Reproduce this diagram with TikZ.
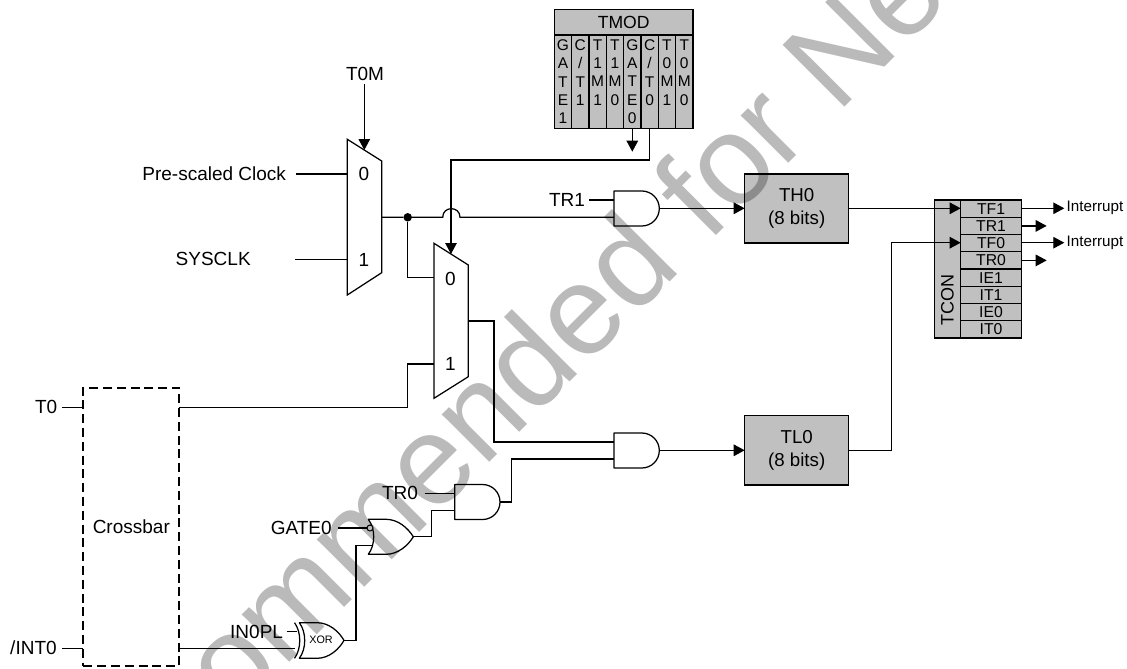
\documentclass[tikz,border=0pt]{standalone}
\usepackage{fontspec}
\setmainfont{Liberation Sans}
\usetikzlibrary{arrows.meta,calc,positioning}
\newcommand{\fs}[2]{\fontsize{#1}{#2}\selectfont}
\newcommand{\andgate}[2]{% left x, top y
  \draw[gate] (#1,#2) -- ++(27.8,0) .. controls ++(9.7,0) and (#1+45.3,#2+7.8) .. (#1+45.3,#2+17.5)
    .. controls (#1+45.3,#2+27.2) and (#1+37.5,#2+35) .. (#1+27.8,#2+35) -- (#1,#2+35) -- cycle;}
\tikzset{
  x=1pt,y=-1pt,
  wire/.style={line width=1.25pt,line join=miter},
  arrowwire/.style={wire,-{Triangle[length=11pt,width=11.5pt]}},
  gate/.style={line width=1.25pt,fill=white,line join=round},
  lbl/.style={inner sep=0pt,outer sep=0pt,font=\fs{19}{22}},
  regbox/.style={draw,line width=1.4pt,fill=cellgray,inner sep=0pt,outer sep=0pt,align=center,font=\fs{18.7}{23.5}},
  modcell/.style={draw,line width=1.4pt,fill=cellgray,inner sep=0pt,outer sep=0pt,minimum width=17.33pt,minimum height=93.3pt,align=center,font=\fs{15.5}{18.4}},
  concell/.style={draw,line width=1.4pt,fill=cellgray,inner sep=0pt,outer sep=0pt,minimum width=60.6pt,minimum height=17.25pt,font=\fs{15.75}{17}},
  muxshape/.style={line width=1.25pt,fill=white,line join=miter},
  dot/.style={circle,fill=black,inner sep=0pt,minimum size=8.5pt,outer sep=0pt},
}
\definecolor{cellgray}{HTML}{C0C0C0}
\definecolor{wmgray}{HTML}{BABABA}
\begin{document}
\begin{tikzpicture}
\useasboundingbox (0,0) rectangle (1127,669);
\fill[white] (0,0) rectangle (1127,669);

% --- muxes
\draw[muxshape] (347.3,139.3) -- (381.7,161) -- (381.7,272.7) -- (347.3,295) -- cycle;
\draw[muxshape] (434,243.3) -- (468.3,265) -- (468.3,376.7) -- (434,398.3) -- cycle;
\node[lbl] (m1a) at (364,174.3) {0};
\node[lbl] (m1b) at (364,260) {1};
\node[lbl] (m2a) at (450.5,278.5) {0};
\node[lbl] (m2b) at (450.5,364) {1};
\coordinate (m1in0) at (347.3,174);
\coordinate (m1in1) at (347.3,259.3);
\coordinate (m1top) at (364.3,150);
\coordinate (m1out) at (381.7,217.3);
\coordinate (m2in0) at (434,277.3);
\coordinate (m2in1) at (434,364);
\coordinate (m2top) at (451,254);
\coordinate (m2out) at (468.3,321);

% --- gates
\andgate{614}{191}
\andgate{614}{433}
\andgate{454.7}{484.5}
\draw[gate] (368.3,519.3) -- (386,519.3) .. controls (398,519.3) and (408,528) .. (413.3,536.8)
  .. controls (408,545.5) and (398,554.3) .. (386,554.3) -- (368.3,554.3)
  .. controls (375.5,545) and (375.5,528.5) .. (368.3,519.3) -- cycle;
\draw[gate] (299.3,622.7) -- (317,622.7) .. controls (329,622.7) and (339,631.5) .. (344,640.4)
  .. controls (339,649.3) and (329,658.3) .. (317,658.3) -- (299.3,658.3)
  .. controls (306.5,649) and (306.5,632) .. (299.3,622.7) -- cycle;
\draw[gate,fill=none] (294.5,622.7) .. controls (301.5,632) and (301.5,649) .. (294.5,658.3);
\draw[line width=1pt,fill=white] (370,528) circle[radius=3];
\node[lbl,font=\fs{10.8}{12}] (xorlbl) at (321,640) {XOR};

\coordinate (a1in1) at (614,200);
\coordinate (a1in2) at (614,217.3);
\coordinate (a1out) at (659.3,208.3);
\coordinate (a2in1) at (614,442);
\coordinate (a2in2) at (614,459);
\coordinate (a2out) at (659.3,450.3);
\coordinate (a3in1) at (454.7,493.3);
\coordinate (a3in2) at (454.7,510.7);
\coordinate (a3out) at (500,502);
\coordinate (orin1) at (367,528);
\coordinate (orin2) at (372.7,545.7);
\coordinate (orout) at (413.3,536.8);
\coordinate (xin1) at (297,631.7);
\coordinate (xin2) at (295,648.5);
\coordinate (xout) at (344,640.4);

% --- crossbar
\node[draw,dash pattern=on 9pt off 4.8pt,line width=1.8pt,inner sep=0pt,outer sep=0pt,minimum width=96pt,minimum height=278.3pt,font=\fs{19}{22}] (xbar) at (131.3,526.8) {Crossbar};
\coordinate (xbT0l) at (83.3,407.3);
\coordinate (xbT0r) at (179.3,407.3);
\coordinate (xbINl) at (83.3,648.5);
\coordinate (xbINr) at (179.3,648.5);

% --- registers
\node[regbox,minimum width=104pt,minimum height=69pt] (th0) at (796.7,208.5) {TH0\\(8 bits)};
\node[regbox,minimum width=104pt,minimum height=69.3pt] (tl0) at (796.7,450.3) {TL0\\(8 bits)};

% --- TMOD
\node[draw,line width=1.4pt,fill=cellgray,inner sep=0pt,outer sep=0pt,minimum width=138.7pt,minimum height=25.7pt,font=\fs{17.6}{20}] (tmod) at (623.65,22.15) {TMOD};
\node[modcell] (tm1) at (562.97,81.65) {G\\A\\T\\E\\1};
\node[modcell] (tm2) at (580.3,81.65) {C\\/\\T\\1\\~};
\node[modcell] (tm3) at (597.63,81.65) {T\\1\\M\\1\\~};
\node[modcell] (tm4) at (614.96,81.65) {T\\1\\M\\0\\~};
\node[modcell] (tm5) at (632.29,81.65) {G\\A\\T\\E\\0};
\node[modcell] (tm6) at (649.62,81.65) {C\\/\\T\\0\\~};
\node[modcell] (tm7) at (666.95,81.65) {T\\0\\M\\1\\~};
\node[modcell] (tm8) at (684.28,81.65) {T\\0\\M\\0\\~};

% --- TCON
\node[draw,line width=1.4pt,fill=cellgray,inner sep=0pt,outer sep=0pt,minimum width=26pt,minimum height=138pt] (tconbox) at (947.7,269) {};
\node[lbl,rotate=90,font=\fs{18}{20}] (tconlbl) at (947.5,299.5) {TCON};
\node[concell] (tf1) at (991,208.6) {TF1};
\node[concell] (tr1) at (991,225.9) {TR1};
\node[concell] (tf0) at (991,243.1) {TF0};
\node[concell] (tr0) at (991,260.4) {TR0};
\node[concell] (ie1) at (991,277.6) {IE1};
\node[concell] (it1) at (991,294.9) {IT1};
\node[concell] (ie0) at (991,312.1) {IE0};
\node[concell] (it0) at (991,329.4) {IT0};

% --- labels
\node[lbl,anchor=east] (pre) at (286,174) {Pre-scaled Clock};
\node[lbl,anchor=east] (sys) at (250.7,258.5) {SYSCLK};
\node[lbl] (t0m) at (365,74) {T0M};
\node[lbl,anchor=east] (tr1l) at (585,199.5) {TR1};
\node[lbl,anchor=east] (t0l) at (57.3,407) {T0};
\node[lbl,anchor=east] (intl) at (56.7,648) {/INT0};
\node[lbl,anchor=east] (tr0l) at (418,493) {TR0};
\node[lbl,anchor=east] (gatel) at (331.7,527.5) {GATE0};
\node[lbl,anchor=east] (inpl) at (283,631.5) {IN0PL};
\node[lbl,anchor=west,font=\fs{15.2}{17}] (int1) at (1066.7,208) {Interrupt};
\node[lbl,anchor=west,font=\fs{15.2}{17}] (int2) at (1066.7,242.5) {Interrupt};

% --- connectors
\draw[wire] ($(pre.east)+(10,0)$) -- (m1in0);
\draw[wire] ($(sys.east)+(44.3,0.8)$) -- (m1in1);
\coordinate (t0mb) at (364.3,84);
\draw[arrowwire] (t0mb) -- (m1top);
\node[dot] (jn) at (407.7,217.3) {};
\coordinate (hopa) at (442.7,217.3);
\coordinate (hopb) at (460,217.3);
\draw[wire] (m1out) -- (jn) -- (hopa) .. controls (442.7,205.8) and (460,205.8) .. (hopb) -- (a1in2);
\draw[wire] (jn) |- (m2in0);
\draw[wire] (xbT0r) -- (407.7,407.3) -- (407.7,364) -- (m2in1);
\draw[wire] (m2out) -- (494,321) -- (494,442) -- (a2in1);
\draw[arrowwire] (tm5.south) -- (632.29,151.7);
\draw[arrowwire] (tm6.south) -- (649.62,160) -- (451,160) -- (m2top);
\draw[wire] ($(tr1l.east)+(4.3,0.5)$) -- (a1in1);
\draw[arrowwire] (a1out) -- (th0.west |- a1out);
\draw[arrowwire] (a2out) -- (tl0.west);
\draw[arrowwire] (th0.east |- a1out) -- (tf1.west |- a1out);
\draw[arrowwire] (tl0.east) -- (891.7,450.3) -- (891.7,242.7) -- (tf0.west |- 0,242.7);
\draw[arrowwire] (tf1.east |- 0,208.3) -- (1064.3,208.3);
\draw[arrowwire] (tr1.east) -- (1046.7,225.9);
\draw[arrowwire] (tf0.east |- 0,242.7) -- (1064.3,242.7);
\draw[arrowwire] (tr0.east) -- (1046.7,260.4);
\draw[wire] (a3out) -- (511.7,502) -- (511.7,459) -- (a2in2);
\draw[wire] ($(tr0l.east)+(6.7,0.3)$) -- (a3in1);
\draw[wire] (orout) -- (431.7,536.8) -- (431.7,510.7) -- (a3in2);
\draw[wire] ($(gatel.east)+(6.6,0.5)$) -- (orin1);
\draw[wire] (xout) -- (356,640.4) -- (356,545.7) -- (orin2);
\draw[wire] ($(inpl.east)+(3.7,0.2)$) -- (xin1);
\draw[wire] (xbINr) -- (xin2);
\draw[wire] ($(t0l.east)+(5,0.3)$) -- (xbT0l);
\draw[wire] ($(intl.east)+(5.6,0.5)$) -- (xbINl);

% --- watermark
\begin{scope}[blend mode=multiply]
\clip (0,0) rectangle (1127,669);
\node[inner sep=0pt,outer sep=0pt,anchor=base west,rotate=45,text=wmgray,font=\fs{127}{130}] (wm) at (234,718) {ommended for Ne};
\end{scope}
\end{tikzpicture}
\end{document}
